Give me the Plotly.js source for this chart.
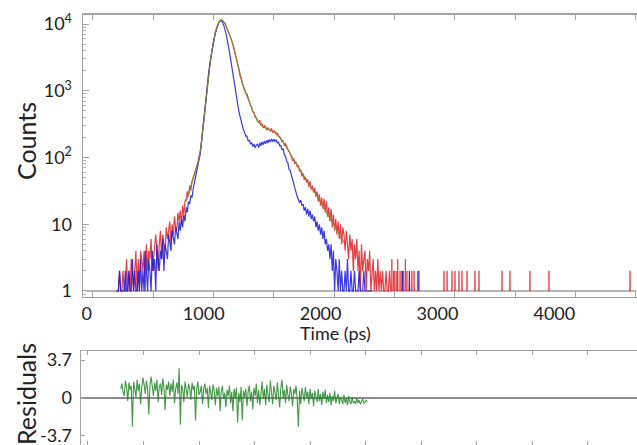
<!DOCTYPE html>
<html><head><meta charset="utf-8">
<script src="https://cdn.plot.ly/plotly-3.0.1.min.js"></script>
<style>html,body{margin:0;padding:0;background:#fff;overflow:hidden}#chart{width:637px;height:445px}</style>
</head><body><div id="chart"></div>
<script>
// time channels (ps)
const channelStart = 250;
const channelWidth = 10;

// sample decay (red), counts per channel from 250 ps
const redCounts = [
1,1,1,2,1,1,2,1,1,3,
1,2,1,3,2,1,2,4,1,3,
1,4,3,2,4,1,5,2,4,3,
6,2,3,5,7,4,2,5,8,3,
7,5,4,9,6,8,11,5,10,7,
13,9,8,15,11,16,10,19,14,22,
24,31,26,38,32,44,50,60,64,76,
84,104,118,170,240,355,515,790,1140,1700,
2350,3100,4000,5100,6300,7500,8700,9800,10700,11300,
11500,11300,10900,10300,9500,8700,7900,7100,6300,5600,
5000,4300,3500,3000,2550,2150,1700,1460,1290,1160,
1060,920,900,780,720,610,560,480,470,400,
392,350,338,360,300,322,276,300,285,258,
280,262,248,275,236,252,246,222,236,210,
205,192,172,180,150,163,140,132,125,112,
104,92,95,80,86,72,76,62,65,52,
58,46,51,42,47,36,44,33,38,30,
35,26,31,22,28,19,25,17,24,15,
22,13,18,11,17,9,14,8,12,7,
11,6,10,5,9,7,4,8,5,3,
7,4,6,2,5,3,6,2,4,1,
5,2,3,4,1,3,2,4,1,2,
3,1,2,1,3,1,2,1,2,1,
1,2,1,1,2,1
];

// second decay (blue), counts per channel from 250 ps
const blueCounts = [
1,1,1,2,1,1,1,1,2,1,
1,2,1,1,3,1,2,1,1,2,
1,3,1,2,1,4,2,1,3,2,
1,4,2,3,1,5,3,2,4,3,
6,2,5,4,3,7,5,4,8,6,
5,9,7,6,11,8,12,9,14,11,
18,15,22,20,27,25,34,42,50,60,
72,90,112,160,240,345,515,770,1140,1660,
2320,3050,3950,5050,6200,7400,8600,9700,10500,11100,
11200,10700,9800,8600,7300,6100,4900,3900,3000,2300,
1700,1280,960,740,600,500,420,350,300,260,
240,208,210,176,184,158,168,146,160,140,
152,160,141,166,150,172,155,176,160,182,
165,186,170,190,172,188,174,185,166,170,
150,152,130,136,110,104,88,84,66,64,
55,46,42,36,30,26,24,21,23,19,
20,16,18,14,17,13,16,12,14,11,
13,9,11,8,10,7,9,6,8,5,
6,4,5,3,5,2,4,1,3,2,
1,3,1,2,1,1,2,1,3,1,
1,2,1,1,2,1,1,1,2,1,
1,1,2,1,1,1,1,1,1,1
];

// fitted curve (olive), from 850 ps
const fitStart = 850;
const fitCounts = [
22,25,28,32,36,41,46,53,61,70,
82,96,118,160,240,350,520,780,1150,1680,
2350,3100,4000,5100,6300,7500,8700,9800,10700,11300,
11500,11300,10900,10300,9500,8700,7900,7100,6300,5600,
4950,4300,3600,3050,2550,2120,1750,1470,1270,1130,
1020,930,850,770,690,620,555,500,455,420,
385,360,340,322,308,296,287,280,275,270,
266,262,258,253,248,242,236,228,219,210,
200,190,180,170,160,150,141,132,124,116,
108,101,94,88,82,77,72,67,63,59,
55,52,49,46,43,40,38,36,34,32,
30,28,26,24.5,23,21.5,20,18.7,17.5,16.3,
15.2,14.2,13.2,12.3,11.5,10.7,10,9.3,8.7,8.1,
7.5,7,6.5,6.1,5.7,5.3
];

// sparse late counts
const redTailTimes = [2610,2625,2636,2653,2660,2680,2696,2710,2725,2739,2760,2781,2800,2830,3056,3082,3124,3150,3184,3210,3253,3321,3355,3552,3620,3791,3954,4647];
const redTailCounts = [3,2,2,2,3,2,2,2,3,2,2,2,2,2,2,2,2,2,2,2,2,2,2,2,2,2,2,2];
const blueTailTimes = [2700,2760,2841];
const blueTailCounts = [2,2,2];

// instrument floor
const baselineTimes = [0, 4700];
const baselineCounts = [1, 1];

// weighted residuals, from 290 ps
const residualStart = 290;
const residuals = [
0.9,1.4,0.6,0.2,1.7,1.1,-0.3,1.5,0.8,1.2,
-2.8,1.6,0.9,0.1,1.8,0.7,1.4,-0.6,1.0,2.0,
1.3,0.4,1.7,0.9,-1.6,1.2,2.1,0.8,0.2,1.5,
0.7,1.8,-0.4,1.1,1.4,0.3,1.9,1.0,-1.2,1.3,
0.8,1.6,0.2,1.4,0.6,1.8,-0.5,0.9,1.5,0.4,
2.9,-2.6,1.3,0.9,-0.4,1.6,0.7,0.1,1.4,1.0,
-0.2,1.5,0.8,1.2,-2.2,0.9,1.6,0.3,0.6,1.2,
-0.6,0.9,1.4,0.4,1.0,-1.0,1.2,0.6,-0.2,1.3,
0.7,-0.7,1.0,0.2,1.1,-1.3,0.6,1.2,-0.1,0.5,
-0.9,0.8,0.2,1.2,-0.5,0.6,-1.3,0.9,0.0,1.0,
-2.4,0.5,-0.4,1.1,-2.2,0.7,0.1,0.9,-0.8,0.6,
1.2,-0.3,0.6,-1.1,1.0,0.2,1.4,-0.5,0.8,-0.7,
0.4,1.6,-0.1,0.9,-0.7,1.3,0.3,-0.4,1.7,0.6,
-0.6,1.2,0.5,-0.2,1.5,0.4,-0.9,1.0,1.8,0.0,
0.8,-0.5,1.3,0.3,-0.3,1.1,0.5,-0.8,0.9,0.4,
1.2,-0.2,-2.8,0.7,-0.6,1.0,0.3,-0.3,1.1,0.0,
0.6,-0.6,0.9,-0.1,0.5,-0.8,0.7,0.2,-0.4,0.9,
-0.3,0.4,-0.7,0.6,-0.1,0.8,-0.5,0.3,-0.4,0.5,
-0.7,0.2,-0.3,0.7,-0.5,0.0,0.4,-0.6,0.1,-0.2,
-0.6,0.3,-0.5,0.0,-0.7,0.2,-0.4,-0.6,0.1,-0.5,
-0.3,-0.6,0.0,-0.5,-0.2,-0.6,-0.3,-0.1,-0.5,-0.4,
-0.2,-0.4
];

// tick labels
const xTickVals = [0,1000,2000,3000,4000];
const xTickText = ['0','1000','2000','3000','4000'];
const yTickVals = [1,10,100,1000,10000];
const yTickText = ['1','10','10<sup>2</sup>','10<sup>3</sup>','10<sup>4</sup>'];
const resTickVals = [-3.7,0,3.7];
const resTickText = ['-3.7','0','3.7'];

function spikes(times, counts){
  const x=[], y=[];
  times.forEach((t,i)=>{ x.push(t-3,t,t+3,null); y.push(1,counts[i],1,null); });
  return {x,y};
}
const redTail = spikes(redTailTimes, redTailCounts);
const blueTail = spikes(blueTailTimes, blueTailCounts);

const RED = 'rgba(228,28,36,0.85)';
const BLUE = 'rgba(24,24,225,0.85)';
const AX = '#a3a3a3';
const FONT = 'Lato, "Open Sans", sans-serif';

const traces = [
  {x: baselineTimes, y: baselineCounts, mode:'lines', line:{color:'#9c9c9c', width:1.5}, xaxis:'x', yaxis:'y'},
  {y: redCounts, x0: channelStart, dx: channelWidth, mode:'lines', line:{color:RED, width:1.2}, xaxis:'x', yaxis:'y'},
  {x: redTail.x, y: redTail.y, mode:'lines', line:{color:'rgba(228,28,36,0.7)', width:1}, connectgaps:false, xaxis:'x', yaxis:'y'},
  {y: blueCounts, x0: channelStart, dx: channelWidth, mode:'lines', line:{color:BLUE, width:1.2}, xaxis:'x', yaxis:'y'},
  {x: blueTail.x, y: blueTail.y, mode:'lines', line:{color:'rgba(24,24,225,0.7)', width:1}, connectgaps:false, xaxis:'x', yaxis:'y'},
  {y: fitCounts, x0: fitStart, dx: channelWidth, mode:'lines', line:{color:'rgba(130,140,50,0.9)', width:1.2}, xaxis:'x', yaxis:'y'},
  {y: residuals, x0: residualStart, dx: channelWidth, mode:'lines', line:{color:'rgba(34,135,40,0.85)', width:1.1}, xaxis:'x2', yaxis:'y2'}
];

const tickFont = {family:FONT, size:18, color:'#222'};

const layout = {
  width:637, height:445,
  margin:{l:0, r:0, t:0, b:0},
  paper_bgcolor:'#fff', plot_bgcolor:'#fff',
  showlegend:false,
  font:{family:FONT, color:'#222', size:18},
  xaxis:{
    domain:[0.1303,1], anchor:'y', range:[-32.5,4707],
    tickmode:'array', tickvals:xTickVals, ticktext:xTickText, tickfont:tickFont,
    ticks:'inside', ticklen:0, tickcolor:AX,
    minor:{tick0:53, dtick:516, ticks:'inside', ticklen:5, tickcolor:AX, showgrid:false},
    showline:true, linecolor:AX, linewidth:1.5, mirror:'ticks',
    showgrid:false, zeroline:false, ticklabelstandoff:0, automargin:false
  },
  yaxis:{
    domain:[0.3326,0.9663], anchor:'x', type:'log', range:[-0.09,4.135],
    tickmode:'array', tickvals:yTickVals, ticktext:yTickText, tickfont:tickFont,
    ticks:'inside', ticklen:6, tickcolor:AX,
    minor:{dtick:'D1', ticks:'inside', ticklen:3, tickcolor:'#b5b5b5', showgrid:false},
    showline:true, linecolor:AX, linewidth:1.5, mirror:false,
    showgrid:false, zeroline:false, ticklabelstandoff:6, automargin:false
  },
  xaxis2:{
    domain:[0.1272,1], anchor:'y2', range:[-49.6,4707],
    showticklabels:false, tick0:10, dtick:475,
    ticks:'inside', ticklen:4, tickcolor:AX,
    showline:true, linecolor:AX, linewidth:1.5, mirror:'ticks',
    showgrid:false, zeroline:false, automargin:false
  },
  yaxis2:{
    domain:[0,0.2112], anchor:'x2', range:[-4.58,4.58],
    tickmode:'array', tickvals:resTickVals, ticktext:resTickText, tickfont:tickFont,
    ticks:'inside', ticklen:4, tickcolor:AX, ticklabeloverflow:'allow',
    showline:true, linecolor:AX, linewidth:1.5,
    zeroline:true, zerolinecolor:'#8a8a8a', zerolinewidth:2,
    showgrid:false, ticklabelstandoff:4, automargin:false
  },
  annotations:[
    {text:'Counts', xref:'paper', yref:'paper', x:0.0408, y:0.683, textangle:-90, showarrow:false,
     xanchor:'center', yanchor:'middle', font:{family:FONT, size:25, color:'#222'}},
    {text:'Residuals', xref:'paper', yref:'paper', x:0.0408, y:0.1146, textangle:-90, showarrow:false,
     xanchor:'center', yanchor:'middle', font:{family:FONT, size:25, color:'#222'}},
    {text:'Time (ps)', xref:'paper', yref:'paper', x:0.526, y:0.2517, showarrow:false,
     xanchor:'center', yanchor:'middle', font:{family:FONT, size:18, color:'#222'}}
  ]
};

Plotly.newPlot('chart', traces, layout, {staticPlot:true, displayModeBar:false});
</script>
</body></html>
